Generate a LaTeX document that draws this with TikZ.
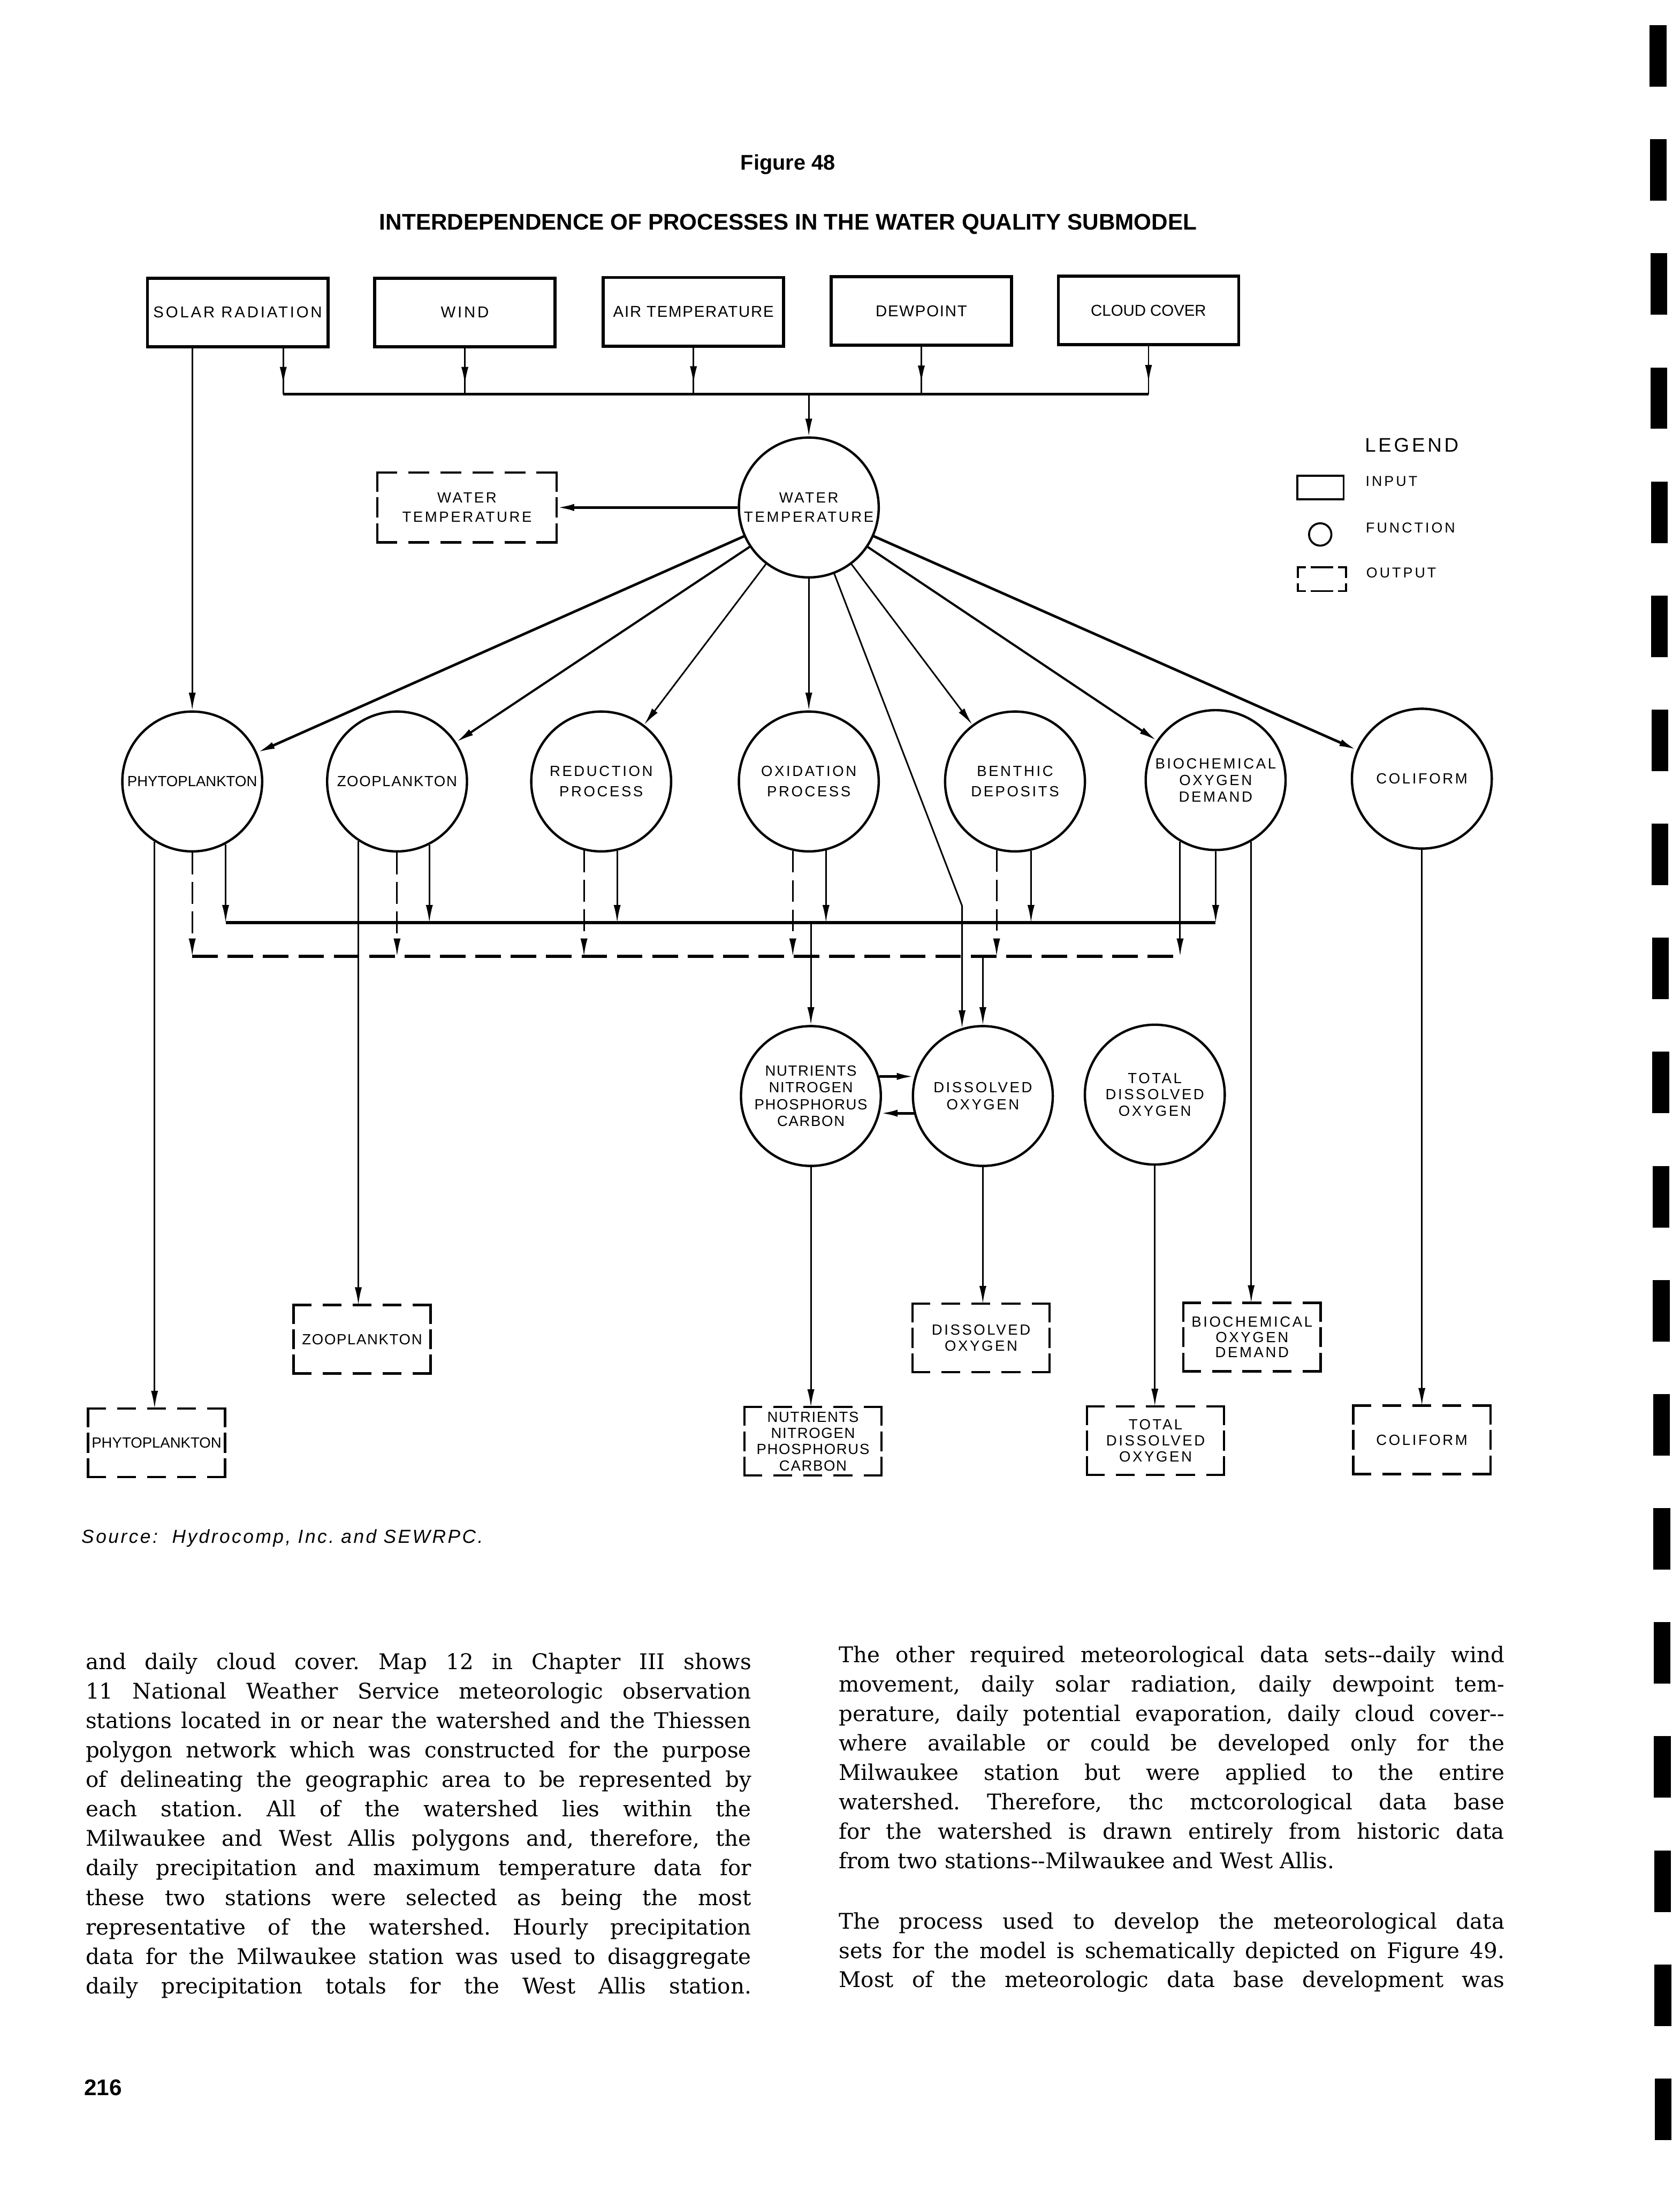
\documentclass[tikz,border=0pt]{standalone}
\usepackage{fontspec}
\setmainfont{Liberation Sans}
\newfontfamily\bodyf{DejaVu Serif}
\newfontfamily\lsA[LetterSpace=6]{Liberation Sans}
\newfontfamily\lsB[LetterSpace=13]{Liberation Sans}
\newfontfamily\lsC[LetterSpace=15]{Liberation Sans}
\newfontfamily\srcf[LetterSpace=10]{Liberation Sans}
\usetikzlibrary{arrows.meta}
\newcommand\fsz[2]{\fontsize{#1}{#2}\selectfont}
\newcommand\jb[1]{\makebox[338.6pt][s]{#1}}
\newcommand\obox[1]{%
  \draw[line width=1.2pt, line cap=rect, dash pattern=on 8.4pt off 6.9pt] (#1.north west) -- (#1.north east) (#1.south west) -- (#1.south east);
  \draw[line width=1.2pt, line cap=rect, dash pattern=on 8.95pt off 4pt] (#1.north west) -- (#1.south west) (#1.north east) -- (#1.south east);}
\frenchspacing
\begin{document}
\begin{tikzpicture}[x=0.025cm, y=-0.025cm,
  inbox/.style={draw, line width=1.6pt, minimum width=3.225cm, minimum height=1.225cm, inner sep=0pt, align=center},
  fn/.style={draw, circle, line width=1.2pt, minimum size=2.5cm, inner sep=0pt, align=center},
  outb/.style={minimum width=2.45cm, minimum height=1.225cm, inner sep=0pt, outer sep=0pt, align=center},
  ln/.style={line width=0.8pt},
  arr/.style={line width=0.8pt, -{Latex[length=9pt,width=3.6pt]}},
  bus/.style={line width=1.5pt},
  dsh/.style={dash pattern=on 11pt off 4pt},
  dbusst/.style={line width=1.5pt, dash pattern=on 13pt off 5pt},
  body/.style={font=\bodyf\frenchspacing\fsz{11}{15}, inner sep=0pt, anchor=base west},
]
\useasboundingbox (0,0) rectangle (1201.6,1568);

% ---------- headings ----------
\node[font=\bfseries\fsz{10.8}{13}, anchor=base] (fig) at (563.5,121.5) {Figure 48};
\node[font=\bfseries\fsz{11.5}{14}, anchor=base] (title) at (563.7,164.5) {INTERDEPENDENCE OF PROCESSES IN THE WATER QUALITY SUBMODEL};

% ---------- input boxes ----------
\node[inbox, font=\lsB\fsz{8}{9}] (solar) at (170,223.5) {SOLAR RADIATION};
\node[inbox, font=\lsB\fsz{8}{9}] (wind) at (332.5,223.5) {WIND};
\node[inbox, font=\lsA\fsz{8}{9}] (air) at (496,223) {AIR TEMPERATURE};
\node[inbox, font=\lsA\fsz{8}{9}] (dew) at (659,222.5) {DEWPOINT};
\node[inbox, font=\fsz{8}{9}] (cloud) at (821.5,222) {CLOUD COVER};

% ---------- water temperature ----------
\node[fn, font=\lsB\fsz{7.5}{9.8}] (wt) at (578.5,363) {WATER\\TEMPERATURE};
\node[outb, minimum width=3.2cm, minimum height=1.25cm, font=\lsB\fsz{7.5}{10}] (wtout) at (334,363) {WATER\\TEMPERATURE};
\draw[line width=1.2pt, line cap=rect, dash pattern=on 9.4pt off 6.9pt] (wtout.north west) -- (wtout.north east) (wtout.south west) -- (wtout.south east);
\draw[line width=1.2pt, line cap=rect, dash pattern=on 9.2pt off 4pt] (wtout.north west) -- (wtout.south west) (wtout.north east) -- (wtout.south east);

% ---------- function circles, row 2 ----------
\node[fn, font=\fsz{7.5}{9}] (phyto) at (137.5,559) {PHYTOPLANKTON};
\node[fn, font=\lsA\fsz{7.5}{9}] (zoo) at (284,559) {ZOOPLANKTON};
\node[fn, font=\lsB\fsz{7.5}{10.3}] (red) at (430,559) {REDUCTION\\PROCESS};
\node[fn, font=\lsB\fsz{7.5}{10.3}] (oxi) at (578.5,559) {OXIDATION\\PROCESS};
\node[fn, font=\lsB\fsz{7.5}{10.3}] (ben) at (726,559) {BENTHIC\\DEPOSITS};
\node[fn, font=\lsB\fsz{7.5}{8.5}] (bod) at (869.5,558) {BIOCHEMICAL\\OXYGEN\\DEMAND};
\node[fn, font=\lsB\fsz{7.5}{9}] (coli) at (1017,557) {COLIFORM};

% ---------- function circles, row 3 ----------
\node[fn, font=\lsA\fsz{7.5}{8.6}] (nut) at (580,784) {NUTRIENTS\\NITROGEN\\PHOSPHORUS\\CARBON};
\node[fn, font=\lsB\fsz{7.5}{8.9}] (do) at (703,784) {DISSOLVED\\OXYGEN};
\node[fn, font=\lsB\fsz{7.5}{8.4}] (tdo) at (826,783) {TOTAL\\DISSOLVED\\OXYGEN};

% ---------- output boxes ----------
\node[outb, font=\fsz{7.5}{9}] (phyout) at (112,1032) {PHYTOPLANKTON};
\node[outb, font=\lsA\fsz{7.5}{9}] (zooout) at (259,958) {ZOOPLANKTON};
\node[outb, font=\lsA\fsz{7.5}{8.3}] (nutout) at (581.5,1031) {NUTRIENTS\\NITROGEN\\PHOSPHORUS\\CARBON};
\node[outb, font=\lsB\fsz{7.5}{8.1}] (doout) at (701.7,957) {DISSOLVED\\OXYGEN};
\node[outb, font=\lsB\fsz{7.5}{7.8}] (bodout) at (895.5,956.5) {BIOCHEMICAL\\OXYGEN\\DEMAND};
\node[outb, font=\lsB\fsz{7.5}{8.1}] (tdoout) at (826.5,1030.5) {TOTAL\\DISSOLVED\\OXYGEN};
\node[outb, font=\lsB\fsz{7.5}{9}] (coliout) at (1017,1030) {COLIFORM};
\obox{phyout}\obox{zooout}\obox{nutout}\obox{doout}\obox{bodout}\obox{tdoout}\obox{coliout}

% ---------- inputs to bus ----------
\coordinate (bus) at (0,282);
\coordinate (busL) at (202.6,282);
\draw[ln] (busL |- solar.south) -- (busL);
\draw[arr] (busL |- solar.south) -- ++(0,26);
\foreach \n in {wind,air,dew,cloud}{
  \draw[ln] (\n.south) -- (\n.south |- bus);
  \draw[arr] (\n.south) -- ++(0,26);
}
\draw[bus] (busL) -- (cloud.south |- bus);
\draw[arr] (wt.north |- bus) -- (wt.north);
\draw[arr] (phyto.north |- solar.south) -- (phyto.north);
\draw[arr, line width=1.3pt] (wt) -- (wtout);

% ---------- water temperature to processes ----------
\draw[arr, line width=1.3pt] (wt) -- (phyto);
\draw[arr, line width=1.1pt] (wt) -- (zoo);
\draw[arr] (wt) -- (red);
\draw[arr] (wt) -- (oxi);
\draw[arr] (wt) -- (ben);
\draw[arr, line width=1.1pt] (wt) -- (bod);
\draw[arr, line width=1.3pt] (wt) -- (coli);
\coordinate (ybend) at (0,648);
\draw[arr] (wt) -- (do.107 |- ybend) -- (do.107);

% ---------- collecting lines ----------
\coordinate (sb) at (0,660);
\coordinate (db) at (0,684);
\draw[bus] (phyto.298 |- sb) -- (bod.south |- sb);
\draw[dbusst] (phyto.south |- db) -- (bod.240 |- db);

\draw[arr] (phyto.238) -- (phyto.238 |- phyout.north);
\draw[arr,dsh] (phyto.south) -- (phyto.south |- db);
\draw[arr] (phyto.298) -- (phyto.298 |- sb);

\draw[arr] (zoo.237) -- (zoo.237 |- zooout.north);
\draw[arr,dsh] (zoo.south) -- (zoo.south |- db);
\draw[arr] (zoo.297) -- (zoo.297 |- sb);

\draw[arr,dsh] (red.256) -- (red.256 |- db);
\draw[arr] (red.283) -- (red.283 |- sb);

\draw[arr,dsh] (oxi.257) -- (oxi.257 |- db);
\draw[arr] (oxi.284) -- (oxi.284 |- sb);

\draw[arr,dsh] (ben.255) -- (ben.255 |- db);
\draw[arr] (ben.283) -- (ben.283 |- sb);

\draw[arr] (bod.240) -- (bod.240 |- db);
\draw[arr] (bod.south) -- (bod.south |- sb);
\draw[arr] (bod.300) -- (bod.300 |- bodout.north);

\draw[arr] (coli.south) -- (coli.south |- coliout.north);

\draw[arr] (nut.north |- sb) -- (nut.north);
\draw[arr] (do.north |- db) -- (do.north);

% ---------- row 3 ----------
\draw[arr, line width=1.3pt] (nut.16) -- (do.164);
\draw[arr, line width=1.3pt] (do.194) -- (nut.346);
\draw[arr] (nut.south) -- (nut.south |- nutout.north);
\draw[arr] (do.south) -- (do.south |- doout.north);
\draw[arr] (tdo.south) -- (tdo.south |- tdoout.north);

% ---------- legend ----------
\node[font=\lsB\fsz{10}{12}, anchor=base west, inner sep=0pt] (legt) at (976,323.3) {LEGEND};
\node[draw, line width=1pt, minimum width=0.825cm, minimum height=0.425cm, inner sep=0pt] (lin) at (944.5,348.7) {};
\node[font=\lsC\fsz{7.3}{9}, anchor=base west, inner sep=0pt] (lint) at (976.5,347.7) {INPUT};
\node[draw, circle, line width=1pt, minimum size=0.4cm, inner sep=0pt] (lfn) at (944.3,382.3) {};
\node[font=\lsC\fsz{7.3}{9}, anchor=base west, inner sep=0pt] (lfnt) at (976.7,381.2) {FUNCTION};
\node[minimum width=0.8625cm, minimum height=0.425cm, inner sep=0pt, outer sep=0pt] (lout) at (945.6,414.3) {};
\draw[line width=1pt, line cap=rect] ([shift={(0,7)}]lout.north west) -- (lout.north west) -- ([shift={(5,0)}]lout.north west)
  ([shift={(10,0)}]lout.north west) -- ([shift={(-10,0)}]lout.north east)
  ([shift={(-5,0)}]lout.north east) -- (lout.north east) -- ([shift={(0,7)}]lout.north east)
  ([shift={(0,-5)}]lout.south west) -- (lout.south west) -- ([shift={(5,0)}]lout.south west)
  ([shift={(10,0)}]lout.south west) -- ([shift={(-10,0)}]lout.south east)
  ([shift={(-5,0)}]lout.south east) -- (lout.south east) -- ([shift={(0,-5)}]lout.south east);
\node[font=\lsC\fsz{7.3}{9}, anchor=base west, inner sep=0pt] (loutt) at (977,413.1) {OUTPUT};

% ---------- source ----------
\node[font=\srcf\itshape\fsz{9.6}{11}, anchor=base west, inner sep=0pt] (src) at (58,1103.7) {Source:\ \ Hydrocomp, Inc. and SEWRPC.};

% ---------- body text ----------
\foreach \t [count=\i from 0] in {
 {and daily cloud cover. Map 12 in Chapter III shows},
 {11 National Weather Service meteorologic observation},
 {stations located in or near the watershed and the Thiessen},
 {polygon network which was constructed for the purpose},
 {of delineating the geographic area to be represented by},
 {each station. All of the watershed lies within the},
 {Milwaukee and West Allis polygons and, therefore, the},
 {daily precipitation and maximum temperature data for},
 {these two stations were selected as being the most},
 {representative of the watershed. Hourly precipitation},
 {data for the Milwaukee station was used to disaggregate},
 {daily precipitation totals for the West Allis station.}}
 \node[body] (bl\i) at (61,1194+21.1*\i) {\jb{\t}};

\foreach \t [count=\i from 0] in {
 {The other required meteorological data sets-{}-daily wind},
 {movement, daily solar radiation, daily dewpoint tem-},
 {perature, daily potential evaporation, daily cloud cover-{}-},
 {where available or could be developed only for the},
 {Milwaukee station but were applied to the entire},
 {watershed. Therefore, thc mctcorological data base},
 {for the watershed is drawn entirely from historic data}}
 \node[body] (br\i) at (599.7,1189+21.1*\i) {\jb{\t}};
\node[body] (br7) at (599.7,1336.7) {from two stations-{}-Milwaukee and West Allis.};
\node[body] (br8) at (599.7,1380) {\jb{The process used to develop the meteorological data}};
\node[body] (br9) at (599.7,1400.8) {\jb{sets for the model is schematically depicted on Figure 49.}};
\node[body] (br10) at (599.7,1421.5) {\jb{Most of the meteorologic data base development was}};

% ---------- page number ----------
\node[font=\bfseries\fsz{11.5}{13}, anchor=base west, inner sep=0pt] (pg) at (60,1499) {216};

% ---------- registration bars at the right edge ----------
\foreach \k in {0,...,18}
  \fill (1180+0.2*\k,18+81.6*\k) rectangle ++(12,44);
\end{tikzpicture}
\end{document}
